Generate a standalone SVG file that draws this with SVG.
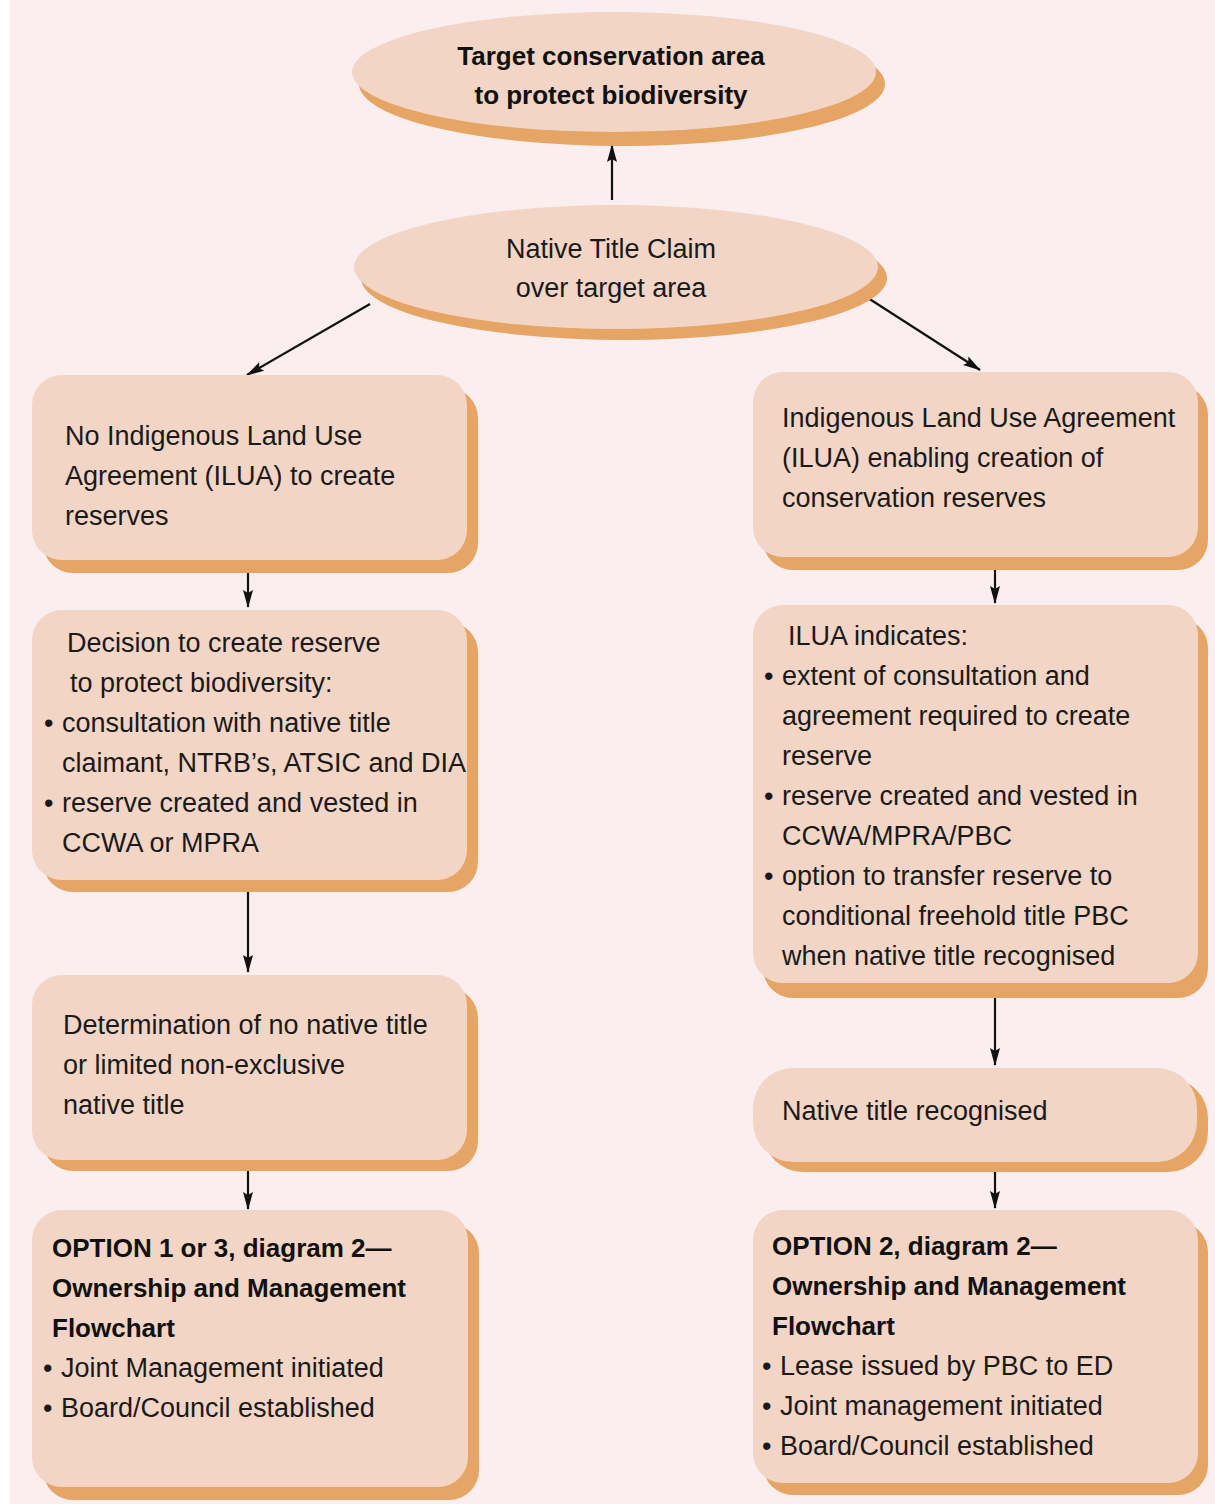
<svg xmlns="http://www.w3.org/2000/svg" width="1215" height="1504" viewBox="0 0 1215 1504">
<defs>
<style>
.bg{fill:#fbeeee}
.box{fill:#f2d5c5}
.sh{fill:#e6a465}
.t{font-family:"Liberation Sans",Arial,sans-serif;font-size:27px;fill:#1a1a1a}
.b{font-family:"Liberation Sans",Arial,sans-serif;font-size:26px;font-weight:bold;fill:#111}
.c{text-anchor:middle}
.con line{stroke:#111;stroke-width:2.2;fill:none}
</style>
<marker id="ah2" markerWidth="18" markerHeight="12" refX="17" refY="6" orient="auto" markerUnits="userSpaceOnUse" viewBox="0 0 18 12">
<path d="M0,1 L18,6 L0,11 L3,6 Z" fill="#111"/>
</marker>
</defs>
<rect x="0" y="0" width="1215" height="1504" fill="#ffffff"/>
<rect class="bg" x="10" y="0" width="1205" height="1504"/>

<g id="connectors" class="con">
<line x1="612" y1="200" x2="612" y2="145" marker-end="url(#ah2)"/>
<line x1="370" y1="304" x2="247" y2="375" marker-end="url(#ah2)"/>
<line x1="868" y1="298" x2="980" y2="370" marker-end="url(#ah2)"/>
<line x1="248" y1="563" x2="248" y2="607" marker-end="url(#ah2)"/>
<line x1="248" y1="882" x2="248" y2="972" marker-end="url(#ah2)"/>
<line x1="248" y1="1162" x2="248" y2="1209" marker-end="url(#ah2)"/>
<line x1="995" y1="557" x2="995" y2="603" marker-end="url(#ah2)"/>
<line x1="995" y1="990" x2="995" y2="1065" marker-end="url(#ah2)"/>
<line x1="995" y1="1163" x2="995" y2="1208" marker-end="url(#ah2)"/>
</g>

<g id="target">
<ellipse class="sh" cx="622" cy="84" rx="263" ry="62"/>
<ellipse class="box" cx="614" cy="72" rx="262" ry="60"/>
<text class="b c" x="611" y="65">Target conservation area</text>
<text class="b c" x="611" y="104">to protect biodiversity</text>
</g>

<g id="claim">
<ellipse class="sh" cx="624" cy="278" rx="263" ry="62"/>
<ellipse class="box" cx="616" cy="267" rx="262" ry="62"/>
<text class="t c" x="611" y="258">Native Title Claim</text>
<text class="t c" x="611" y="297">over target area</text>
</g>

<g id="no-ilua">
<rect class="sh" x="43" y="388" width="435" height="185" rx="30"/>
<rect class="box" x="32" y="375" width="435" height="185" rx="30"/>
<text class="t" x="65" y="445">No Indigenous Land Use</text>
<text class="t" x="65" y="485">Agreement (ILUA) to create</text>
<text class="t" x="65" y="525">reserves</text>
</g>

<g id="decision">
<rect class="sh" x="43" y="622" width="435" height="270" rx="30"/>
<rect class="box" x="32" y="610" width="435" height="270" rx="30"/>
<text class="t" x="67" y="652">Decision to create reserve</text>
<text class="t" x="70" y="692">to protect biodiversity:</text>
<text class="t" x="44" y="732">•<tspan x="62">consultation with native title</tspan></text>
<text class="t" x="62" y="772">claimant, NTRB’s, ATSIC and DIA</text>
<text class="t" x="44" y="812">•<tspan x="62">reserve created and vested in</tspan></text>
<text class="t" x="62" y="852">CCWA or MPRA</text>
</g>

<g id="determination">
<rect class="sh" x="43" y="988" width="435" height="183" rx="30"/>
<rect class="box" x="32" y="975" width="435" height="185" rx="30"/>
<text class="t" x="63" y="1034">Determination of no native title</text>
<text class="t" x="63" y="1074">or limited non-exclusive</text>
<text class="t" x="63" y="1114">native title</text>
</g>

<g id="option13">
<rect class="sh" x="43" y="1223" width="436" height="277" rx="30"/>
<rect class="box" x="32" y="1210" width="436" height="277" rx="30"/>
<text class="b" x="52" y="1257">OPTION 1 or 3, diagram 2—</text>
<text class="b" x="52" y="1297">Ownership and Management</text>
<text class="b" x="52" y="1337">Flowchart</text>
<text class="t" x="43" y="1377">•<tspan x="61">Joint Management initiated</tspan></text>
<text class="t" x="43" y="1417">•<tspan x="61">Board/Council established</tspan></text>
</g>

<g id="ilua">
<rect class="sh" x="763" y="385" width="445" height="185" rx="30"/>
<rect class="box" x="753" y="372" width="445" height="185" rx="30"/>
<text class="t" x="782" y="427">Indigenous Land Use Agreement</text>
<text class="t" x="782" y="467">(ILUA) enabling creation of</text>
<text class="t" x="782" y="507">conservation reserves</text>
</g>

<g id="ilua-indicates">
<rect class="sh" x="763" y="618" width="445" height="380" rx="30"/>
<rect class="box" x="753" y="605" width="445" height="378" rx="30"/>
<text class="t" x="788" y="645">ILUA indicates:</text>
<text class="t" x="764" y="685">•<tspan x="782">extent of consultation and</tspan></text>
<text class="t" x="782" y="725">agreement required to create</text>
<text class="t" x="782" y="765">reserve</text>
<text class="t" x="764" y="805">•<tspan x="782">reserve created and vested in</tspan></text>
<text class="t" x="782" y="845">CCWA/MPRA/PBC</text>
<text class="t" x="764" y="885">•<tspan x="782">option to transfer reserve to</tspan></text>
<text class="t" x="782" y="925">conditional freehold title PBC</text>
<text class="t" x="782" y="965">when native title recognised</text>
</g>

<g id="recognised">
<rect class="sh" x="763" y="1078" width="445" height="94" rx="40"/>
<rect class="box" x="753" y="1068" width="444" height="94" rx="40"/>
<text class="t" x="782" y="1120">Native title recognised</text>
</g>

<g id="option2">
<rect class="sh" x="763" y="1222" width="445" height="273" rx="30"/>
<rect class="box" x="753" y="1210" width="445" height="273" rx="30"/>
<text class="b" x="772" y="1255">OPTION 2, diagram 2—</text>
<text class="b" x="772" y="1295">Ownership and Management</text>
<text class="b" x="772" y="1335">Flowchart</text>
<text class="t" x="762" y="1375">•<tspan x="780">Lease issued by PBC to ED</tspan></text>
<text class="t" x="762" y="1415">•<tspan x="780">Joint management initiated</tspan></text>
<text class="t" x="762" y="1455">•<tspan x="780">Board/Council established</tspan></text>
</g>
</svg>
